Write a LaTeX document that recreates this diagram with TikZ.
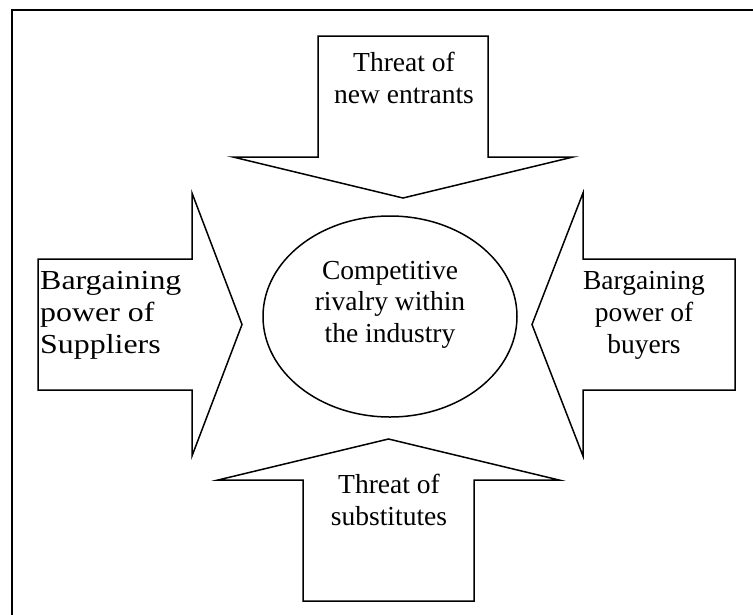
\documentclass[tikz,border=0pt]{standalone}
\usepackage{fontspec}
\setmainfont{Liberation Serif}
\usepackage{tikz}
\usetikzlibrary{shapes.geometric}
\newcommand{\fsz}{\fontsize{27.5}{31.6}\selectfont}

\begin{document}
\begin{tikzpicture}[x=1pt, y=-1pt,
  force/.style={draw, line width=1.5pt, line join=miter},
  lab/.style={font=\fsz, align=center, inner sep=0pt},
  hub/.style={draw, ellipse, line width=1.5pt, inner sep=0pt}
]
\useasboundingbox (0,0) rectangle (753,614);
\clip (0,0) rectangle (753,614);
% frame, cut off at the right and bottom
\draw[line width=2.2pt] (12,10) rectangle (780,640);

% the four forces
\draw[force] (318,36) -- (488,36) -- (488,157) -- (573,157) -- (403,198) -- (233,157) -- (318,157) -- cycle;
\draw[force] (303,601) -- (474,601) -- (474,480) -- (559,480) -- (388.5,439) -- (218,480) -- (303,480) -- cycle;
\draw[force] (38,259) -- (192,259) -- (192,193) -- (242,324.5) -- (192,456) -- (192,390) -- (38,390) -- cycle;
\draw[force] (735,259) -- (583,259) -- (583,193) -- (532,324.5) -- (583,456) -- (583,390) -- (735,390) -- cycle;

\node[hub, minimum width=254pt, minimum height=201pt] (rivalry) at (390,316.5) {};

% base anchor sits on the last line
\node[lab, anchor=base] (entrants) at (404,103.5) {Threat of\\new entrants};
\node[lab, anchor=base] (substitutes) at (389,525) {Threat of\\substitutes};
\node[lab, align=left, anchor=base west, xscale=1.16, transform shape] (suppliers) at (40,353) {Bargaining\\power of\\Suppliers};
\node[lab, anchor=base] (buyers) at (644,353) {Bargaining\\power of\\buyers};
\node[lab, anchor=base] (core) at (390,342.5) {Competitive\\rivalry within\\the industry};
\end{tikzpicture}
\end{document}
